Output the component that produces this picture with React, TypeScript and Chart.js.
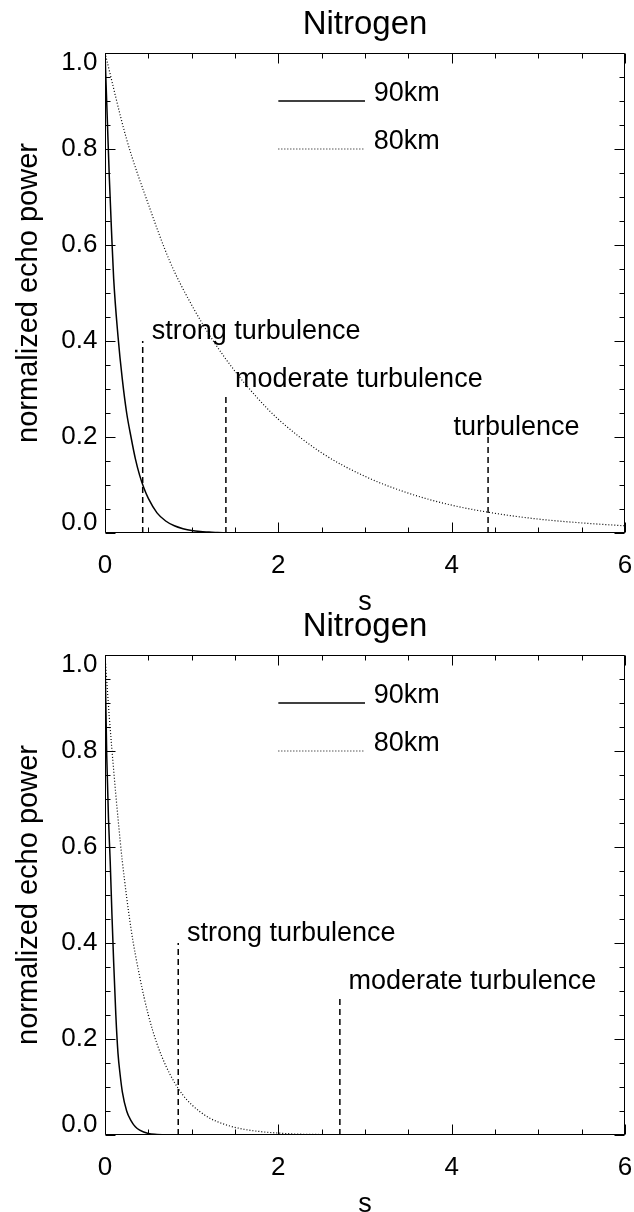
import React, { useEffect, useRef } from "react";
import { Chart, registerables } from "chart.js";

Chart.register(...registerables);

const FONT = "'Liberation Sans', Arimo, Arial, Helvetica, sans-serif";

// ---- shared text / axis definitions ----
const chartTitle = "Nitrogen";
const xTitle = "s";
const yTitle = "normalized echo power";
const xMin = 0;
const xMax = 6;
const xStep = 2;
const yMin = 0;
const yMax = 1;
const yStep = 0.2;
const legendNames = ["90km", "80km"];
const legendLevels = [0.9, 0.8];
const legendFrom = 2;
const legendTo = 3;
const legendTextX = 3.1;

// ---- upper panel ----
const sTop90 = [0, 0.025, 0.05, 0.075, 0.1, 0.15, 0.2, 0.25, 0.3, 0.35, 0.4, 0.45, 0.5, 0.6, 0.7, 0.8, 0.9, 1.0, 1.1, 1.2, 1.3, 1.5, 2, 3, 4, 5, 6];
const pTop90 = [1.0, 0.87, 0.74, 0.63, 0.53, 0.41, 0.32, 0.25, 0.2, 0.155, 0.12, 0.093, 0.072, 0.042, 0.025, 0.015, 0.009, 0.005, 0.003, 0.002, 0.001, 0, 0, 0, 0, 0, 0];
const sTop80 = [0, 0.25, 0.5, 0.75, 1.0, 1.25, 1.5, 1.75, 2.0, 2.5, 3.0, 3.5, 4.0, 4.5, 5.0, 5.5, 6.0];
const pTop80 = [1.0, 0.82, 0.685, 0.565, 0.475, 0.4, 0.337, 0.283, 0.237, 0.167, 0.118, 0.083, 0.058, 0.041, 0.029, 0.021, 0.015];
const markTopS = [0.435, 1.395, 4.42];
const markTopH = [0.4, 0.29, 0.2];
const markTopText = ["strong turbulence", "moderate turbulence", "turbulence"];
const markTopTextS = [0.54, 1.5, 4.02];
const markTopTextY = [0.405, 0.305, 0.205];

// ---- lower panel ----
const sBot90 = [0, 0.02, 0.04, 0.06, 0.08, 0.1, 0.125, 0.15, 0.175, 0.2, 0.25, 0.3, 0.35, 0.4, 0.5, 0.6, 0.7, 6];
const pBot90 = [1.0, 0.79, 0.66, 0.57, 0.46, 0.36, 0.25, 0.17, 0.125, 0.09, 0.05, 0.03, 0.017, 0.01, 0.003, 0.001, 0, 0];
const sBot80 = [0, 0.05, 0.1, 0.15, 0.2, 0.3, 0.4, 0.5, 0.6, 0.7, 0.8, 0.9, 1.0, 1.2, 1.4, 1.6, 1.8, 2.0, 2.2, 2.5];
const pBot80 = [1.0, 0.87, 0.76, 0.66, 0.57, 0.43, 0.33, 0.25, 0.19, 0.145, 0.11, 0.083, 0.063, 0.036, 0.021, 0.012, 0.007, 0.004, 0.002, 0.001];
const markBotS = [0.845, 2.71];
const markBotH = [0.4, 0.29];
const markBotText = ["strong turbulence", "moderate turbulence"];
const markBotTextS = [0.945, 2.81];
const markBotTextY = [0.405, 0.305];

type Panel = {
  s90: number[];
  p90: number[];
  s80: number[];
  p80: number[];
  markS: number[];
  markH: number[];
  markText: string[];
  markTextS: number[];
  markTextY: number[];
};

const panels: Panel[] = [
  { s90: sTop90, p90: pTop90, s80: sTop80, p80: pTop80, markS: markTopS, markH: markTopH, markText: markTopText, markTextS: markTopTextS, markTextY: markTopTextY },
  { s90: sBot90, p90: pBot90, s80: sBot80, p80: pBot80, markS: markBotS, markH: markBotH, markText: markBotText, markTextS: markBotTextS, markTextY: markBotTextY },
];

const pts = (xs: number[], ys: number[]) => xs.map((x, i) => ({ x, y: ys[i] }));

const idlFrame = {
  id: "idlFrame",
  afterDatasetsDraw(chart: any, _args: any, opts: any) {
    const { ctx, chartArea: a, scales } = chart;
    const xs = scales.x;
    const ys = scales.y;
    ctx.save();
    ctx.strokeStyle = "#000";
    ctx.lineWidth = 1;
    const L = Math.round(a.left) + 0.5;
    const R = Math.round(a.right) - 0.5;
    const T = Math.round(a.top) + 0.5;
    const B = Math.round(a.bottom) - 0.5;
    ctx.beginPath();
    ctx.rect(L, T, R - L, B - T);
    const nx = Math.round((xMax - xMin) / 0.5);
    for (let i = 0; i <= nx; i++) {
      const v = xMin + i * 0.5;
      const px = Math.round(xs.getPixelForValue(v)) + 0.5;
      const len = i % 4 === 0 ? 10 : 5;
      ctx.moveTo(px, B);
      ctx.lineTo(px, B - len);
      ctx.moveTo(px, T);
      ctx.lineTo(px, T + len);
    }
    const ny = Math.round((yMax - yMin) / 0.05);
    for (let i = 0; i <= ny; i++) {
      const v = yMin + i * 0.05;
      const py = Math.round(ys.getPixelForValue(v)) + 0.5;
      const len = i % 4 === 0 ? 10 : 5;
      ctx.moveTo(L, py);
      ctx.lineTo(L + len, py);
      ctx.moveTo(R, py);
      ctx.lineTo(R - len, py);
    }
    ctx.stroke();
    ctx.fillStyle = "#000";
    ctx.font = `27px ${FONT}`;
    ctx.textAlign = "left";
    ctx.textBaseline = "alphabetic";
    (opts.notes || []).forEach((n: any) => {
      ctx.fillText(n.text, xs.getPixelForValue(n.x), ys.getPixelForValue(n.y));
    });
    ctx.restore();
  },
};

function buildConfig(p: Panel): any {
  const datasets: any[] = [
    {
      label: legendNames[0],
      data: pts(p.s90, p.p90),
      borderColor: "#000",
      borderWidth: 1.5,
      showLine: true,
      pointRadius: 0,
      cubicInterpolationMode: "monotone",
    },
    {
      label: legendNames[1],
      data: pts(p.s80, p.p80),
      borderColor: "#000",
      borderWidth: 1.2,
      borderDash: [1, 2],
      showLine: true,
      pointRadius: 0,
      cubicInterpolationMode: "monotone",
    },
  ];
  p.markS.forEach((s, i) => {
    datasets.push({
      label: p.markText[i],
      data: [{ x: s, y: 0 }, { x: s, y: p.markH[i] }],
      borderColor: "#000",
      borderWidth: 1.5,
      borderDash: [6, 4],
      showLine: true,
      pointRadius: 0,
    });
  });
  legendLevels.forEach((lv, i) => {
    datasets.push({
      label: legendNames[i] + " key",
      data: [{ x: legendFrom, y: lv }, { x: legendTo, y: lv }],
      borderColor: "#000",
      borderWidth: i === 0 ? 1.5 : 1.2,
      borderDash: i === 0 ? [] : [1, 2],
      showLine: true,
      pointRadius: 0,
    });
  });
  const notes = [
    ...p.markText.map((t, i) => ({ text: t, x: p.markTextS[i], y: p.markTextY[i] })),
    ...legendNames.map((t, i) => ({ text: t, x: legendTextX, y: legendLevels[i] })),
  ];
  return {
    type: "scatter",
    data: { datasets },
    plugins: [idlFrame],
    options: {
      animation: false,
      responsive: false,
      events: [],
      layout: { padding: { left: 0, right: 9, top: 0, bottom: 0 } },
      plugins: {
        legend: { display: false },
        tooltip: { enabled: false },
        title: {
          display: true,
          text: chartTitle,
          color: "#000",
          fullSize: false,
          font: { family: FONT, size: 33, weight: "normal", lineHeight: 1 },
          padding: { top: 8, bottom: 12 },
        },
        idlFrame: { notes },
      },
      scales: {
        x: {
          type: "linear",
          min: xMin,
          max: xMax,
          grid: { display: false, drawTicks: false },
          border: { display: false },
          afterFit: (sc: any) => {
            sc.height = 77;
          },
          ticks: {
            stepSize: xStep,
            autoSkip: false,
            maxRotation: 0,
            padding: 1,
            color: "#000",
            font: { family: FONT, size: 26, lineHeight: 64 / 26 },
            callback: (v: any) => String(Number(v)),
          },
          title: {
            display: true,
            text: xTitle,
            color: "#000",
            font: { family: FONT, size: 27, lineHeight: 8 / 27 },
            padding: { top: 0, bottom: 3 },
          },
        },
        y: {
          type: "linear",
          min: yMin,
          max: yMax,
          grid: { display: false, drawTicks: false },
          border: { display: false },
          afterFit: (sc: any) => {
            sc.width = 105;
          },
          ticks: {
            stepSize: yStep,
            autoSkip: false,
            padding: 7.5,
            color: "#000",
            font: { family: FONT, size: 26, lineHeight: 20 / 26 },
            callback: (v: any) => {
              const n = Number(v);
              const t = n.toFixed(1);
              if (n >= yMax - 1e-6) return ["", t];
              if (n <= yMin + 1e-6) return [t, ""];
              return t;
            },
          },
          title: {
            display: true,
            text: yTitle,
            color: "#000",
            font: { family: FONT, size: 29, lineHeight: 1 },
            padding: { top: 14, bottom: 0 },
          },
        },
      },
    },
  };
}

function PanelChart({ panel, top }: { panel: Panel; top: number }) {
  const ref = useRef<HTMLCanvasElement | null>(null);
  useEffect(() => {
    if (!ref.current) return;
    const chart = new Chart(ref.current, buildConfig(panel));
    return () => chart.destroy();
  }, [panel]);
  return (
    <canvas
      ref={ref}
      width={634}
      height={610}
      style={{ position: "absolute", left: 0, top, width: 634, height: 610 }}
    />
  );
}

export default function App() {
  return (
    <div style={{ position: "absolute", left: 0, top: 0, width: 634, height: 1212, background: "#fff" }}>
      <PanelChart panel={panels[0]} top={0} />
      <PanelChart panel={panels[1]} top={602} />
    </div>
  );
}
